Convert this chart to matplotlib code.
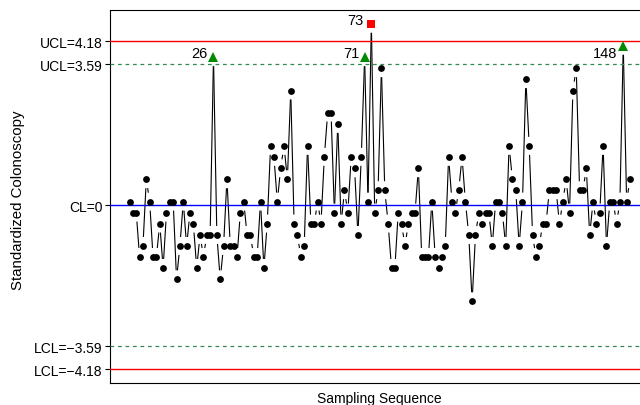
import numpy as np
import matplotlib
matplotlib.use("Agg")
import matplotlib.pyplot as plt
from matplotlib.collections import LineCollection

plt.rcParams['font.family'] = ['Liberation Sans', 'DejaVu Sans']

# ---- data ----
values = [
    0.09, -0.19, -0.19, -1.32, -1.04, 0.66, 0.09, -1.32, -1.32, -0.47,
    -1.60, -0.19, 0.09, 0.09, -1.89, -1.04, 0.09, -1.04, -0.19, -0.47,
    -1.60, -0.76, -1.32, -0.76, -0.76, 3.77, -0.76, -1.89, -1.04, 0.66,
    -1.04, -1.04, -1.32, -0.19, 0.09, -0.76, -0.76, -1.32, -1.32, 0.09,
    -1.60, -0.47, 1.51, 1.23, 0.09, 0.94, 1.51, 0.66, 2.92, -0.47,
    -0.76, -1.32, -1.04, 1.51, -0.47, -0.47, 0.09, -0.47, 1.23, 2.36,
    2.36, -0.19, 2.07, -0.47, 0.38, -0.19, 1.23, 0.94, -0.76, 1.23,
    3.77, 0.09, 4.62, -0.19, 0.38, 3.49, 0.38, -0.47, -1.60, -1.60,
    -0.19, -0.47, -1.04, -0.47, -0.19, -0.19, 0.94, -1.32, -1.32, -1.32,
    0.09, -1.32, -1.60, -1.32, -1.04, 1.23, 0.09, -0.19, 0.38, 1.23,
    0.09, -0.76, -2.45, -0.76, -0.19, -0.47, -0.19, -0.19, -1.04, 0.09,
    0.09, -0.19, -1.04, 1.51, 0.66, 0.38, -1.04, 0.09, 3.21, 1.51,
    -0.76, -1.32, -1.04, -0.47, -0.47, 0.38, 0.38, 0.38, -0.47, 0.09,
    0.66, -0.19, 2.92, 3.49, 0.38, 0.38, 0.94, -0.76, 0.09, -0.47,
    -0.19, 1.51, -1.04, 0.09, 0.09, -0.47, 0.09, 4.06, 0.09, 0.66,
]
seq = list(range(1, len(values) + 1))

cl = 0.0
ucl_3 = 4.18
lcl_3 = -4.18
ucl_w = 3.59
lcl_w = -3.59

limit_ticks = [lcl_3, lcl_w, cl, ucl_w, ucl_3]
limit_labels = ["LCL=\u22124.18", "LCL=\u22123.59", "CL=0", "UCL=3.59", "UCL=4.18"]

warn_points = [26, 71, 148]     # beyond warning limit (green triangles)
out_points = [73]               # beyond control limit (red squares)

# ---- figure ----
W, H, DPI = 640, 406, 100
fig = plt.figure(figsize=(W / DPI, H / DPI), dpi=DPI)
ax_left, ax_right, ax_top, ax_bottom = 109.5, 650.0, 11.0, 384.0
ax = fig.add_axes([ax_left / W, 1 - ax_bottom / H,
                   (ax_right - ax_left) / W, (ax_bottom - ax_top) / H])

x = np.array(seq, dtype=float)
y = np.array(values, dtype=float)

xr = x.max() - x.min()
yr = max(y.max(), ucl_3) - min(y.min(), lcl_3)
ax.set_xlim(x.min() - 0.04 * xr, x.max() + 0.04 * xr)
ax.set_ylim(min(y.min(), lcl_3) - 0.04 * yr, max(y.max(), ucl_3) + 0.04 * yr)

# connecting line with gaps around points (like R type="b")
gap = 9.0  # pixels
pix = ax.transData.transform(np.column_stack([x, y]))
inv = ax.transData.inverted()
segs = []
for p1, p2 in zip(pix[:-1], pix[1:]):
    d = p2 - p1
    L = np.hypot(*d)
    if L > 2 * gap:
        u = d / L
        a = inv.transform(p1 + u * gap)
        b = inv.transform(p2 - u * gap)
        segs.append([a, b])
ax.add_collection(LineCollection(segs, colors='black', linewidths=0.8, zorder=2))

# control / warning lines
ax.axhline(cl, color='#0000FF', lw=1.0, zorder=3)
ax.axhline(ucl_3, color='#FF0000', lw=1.0, zorder=3)
ax.axhline(lcl_3, color='#FF0000', lw=1.0, zorder=3)
ax.axhline(ucl_w, color='#2E8B57', lw=0.9, ls=(0, (3, 3)), zorder=3)
ax.axhline(lcl_w, color='#2E8B57', lw=0.9, ls=(0, (3, 3)), zorder=3)

# points
special = set(warn_points) | set(out_points)
nx = [xi for xi in seq if xi not in special]
ny = [values[xi - 1] for xi in nx]
ax.plot(nx, ny, 'o', color='black', ms=4.9, mew=0, zorder=4)

wx = warn_points
wy = [values[i - 1] for i in warn_points]
ax.plot(wx, wy, '^', color='#008B00', ms=7.5, mew=0, zorder=5)
ox = out_points
oy = [values[i - 1] for i in out_points]
ax.plot(ox, oy, 's', color='#FF0000', ms=5.8, mew=0, zorder=5)

label_offsets = {26: (-4, 3), 71: (-4, 3), 73: (-6, 3), 148: (-4, -5)}
for i in warn_points + out_points:
    dx, dy = label_offsets[i]
    ax.annotate(str(i), (i, values[i - 1]), xytext=(dx, dy),
                textcoords='offset points', ha='right', va='center',
                fontsize=10.5, color='black', zorder=6)

# axes styling
ax.set_yticks(limit_ticks)
ax.set_yticklabels(limit_labels, fontsize=10)
ax.set_xticks([])
ax.tick_params(axis='y', length=3.6, width=0.8, pad=1.5, direction='out')
for s in ax.spines.values():
    s.set_linewidth(0.8)
    s.set_color('black')

fig.text(18 / W, 1 - 200 / H, "Standardized Colonoscopy", rotation=90,
         ha='center', va='center', fontsize=10.8)
fig.text((ax_left + ax_right) / 2 / W, 1 - 399.5 / H, "Sampling Sequence",
         ha='center', va='center', fontsize=10)

fig.savefig("out.png", dpi=DPI)
